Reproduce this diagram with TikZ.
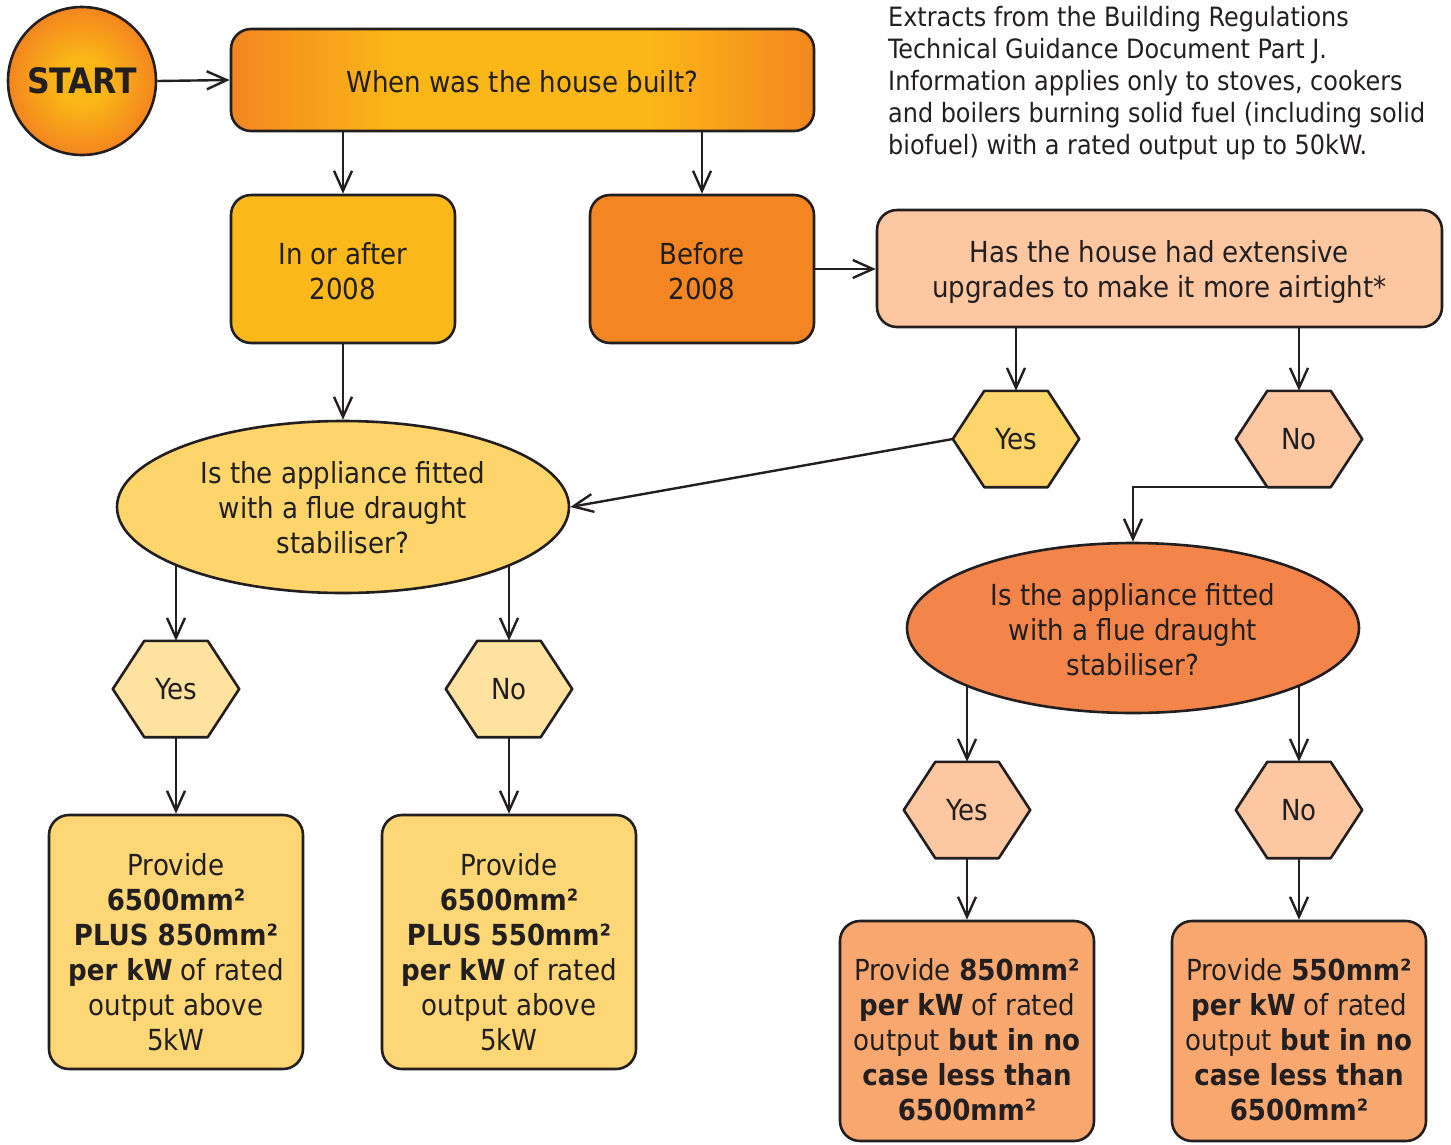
\documentclass[tikz,border=0pt]{standalone}
\usepackage{fontspec}
\setmainfont{DejaVu Sans Condensed}
\usetikzlibrary{shapes.geometric,arrows.meta}
\definecolor{ink}{HTML}{231F20}
\definecolor{cOr}{HTML}{F3861F}
\definecolor{cYe}{HTML}{FBB617}
\definecolor{cIn}{HTML}{FBB81A}
\definecolor{cBefore}{HTML}{F38522}
\definecolor{cPeach}{HTML}{FDC7A1}
\definecolor{cGold}{HTML}{FDD56A}
\definecolor{cPale}{HTML}{FFE1A0}
\definecolor{cBoxY}{HTML}{FDD676}
\definecolor{cEllO}{HTML}{F3854A}
\definecolor{cBoxO}{HTML}{F8A86F}
\pgfdeclarelayer{bg}
\pgfsetlayers{bg,main}
\pgfdeclarehorizontalshading{topbar}{100bp}{color(0bp)=(cOr); color(25bp)=(cOr); color(39bp)=(cYe); color(61bp)=(cYe); color(75bp)=(cOr); color(100bp)=(cOr)}
\pgfdeclareradialshading{startball}{\pgfpoint{0bp}{0bp}}{color(0bp)=(cYe); color(8bp)=(cYe); color(25bp)=(cOr); color(50bp)=(cOr)}
\newcommand\mainfs{\fontsize{29}{35}\selectfont}
\newcommand\notefs{\fontsize{26.6}{32}\selectfont}
\newcommand\hexa[4]{%
  \path node[hexbox] (#1) at (#2) {};
  \draw[shapeline, fill=#3] (#1.west) -- ([xshift=31.5pt]#1.north west) -- ([xshift=-31.5pt]#1.north east) -- (#1.east) -- ([xshift=-31.5pt]#1.south east) -- ([xshift=31.5pt]#1.south west) -- cycle;
  \node[txt] (#1t) at (#1) {#4};}
\tikzset{
  shapeline/.style={draw=ink, line width=2.6pt, line join=round},
  txt/.style={text=ink, align=center, font=\mainfs, inner sep=0pt},
  rbox/.style={shapeline, rectangle, rounded corners=20pt, inner sep=0pt},
  oval/.style={shapeline, ellipse, inner sep=0pt, minimum width=452pt, minimum height=172pt},
  hexbox/.style={rectangle, inner sep=0pt, minimum width=126pt, minimum height=96pt},
  conn/.style={draw=ink, line width=2.4pt, -{Straight Barb[length=20pt,width=18pt,line width=2.4pt]}},
  plain/.style={draw=ink, line width=2.4pt}
}
\begin{document}
\begin{tikzpicture}[x=1pt,y=-1pt]
\useasboundingbox (0,0) rectangle (1451,1144);
% start and top question
\node[shapeline, circle, minimum size=148pt, inner sep=0pt, shade, shading=startball, text=ink, font=\fontsize{35}{40}\selectfont\bfseries] (start) at (82,81) {START};
\node[rbox, shade, shading=topbar, minimum width=583pt, minimum height=102pt] (top) at (522.5,80) {};
\node[txt] (topt) at (522.5,82) {When was the house built?};
% year boxes
\node[rbox, fill=cIn, minimum width=224pt, minimum height=148pt] (in) at (343,269) {};
\node[txt] (int) at (343,271) {In or after\\2008};
\node[rbox, fill=cBefore, minimum width=224pt, minimum height=148pt] (before) at (702,269) {};
\node[txt] (beforet) at (702,271) {Before\\2008};
\node[rbox, fill=cPeach, minimum width=565pt, minimum height=117pt] (has) at (1159.5,268.5) {};
\node[txt] (hast) at (1159.5,272) {Has the house had extensive\\upgrades to make it more airtight*};
% note
\node[text=ink, align=left, font=\notefs, inner sep=0pt, anchor=north west] (note) at (888,6) {Extracts from the Building Regulations\\Technical Guidance Document Part J.\\Information applies only to stoves, cookers\\and boilers burning solid fuel (including solid\\biofuel) with a rated output up to 50kW.};
% airtight answers
\hexa{hy1}{1016,439}{cGold}{Yes}
\hexa{hn1}{1299,439}{cPeach}{No}
% ellipses
\node[oval, fill=cGold] (ell1) at (343,507) {};
\node[txt] (ell1t) at (343,508) {Is the appliance fitted\\with a flue draught\\stabiliser?};
\node[oval, fill=cEllO, minimum height=170pt] (ell2) at (1133,628) {};
\node[txt] (ell2t) at (1133,630) {Is the appliance fitted\\with a flue draught\\stabiliser?};
% stabiliser answers
\hexa{hy2}{176,689}{cPale}{Yes}
\hexa{hn2}{509,689}{cPale}{No}
\hexa{hy3}{967,810}{cPeach}{Yes}
\hexa{hn3}{1299,810}{cPeach}{No}
% result boxes
\node[rbox, fill=cBoxY, minimum width=254pt, minimum height=254pt] (b1) at (176,942) {};
\node[txt] (b1t) at (176,952) {Provide\\\textbf{6500mm²}\\\textbf{PLUS 850mm²}\\\textbf{per kW} of rated\\output above\\5kW};
\node[rbox, fill=cBoxY, minimum width=254pt, minimum height=254pt] (b2) at (509,942) {};
\node[txt] (b2t) at (509,952) {Provide\\\textbf{6500mm²}\\\textbf{PLUS 550mm²}\\\textbf{per kW} of rated\\output above\\5kW};
\node[rbox, fill=cBoxO, minimum width=254pt, minimum height=220pt] (b3) at (967,1031) {};
\node[txt] (b3t) at (967,1040) {Provide \textbf{850mm²}\\\textbf{per kW} of rated\\output \textbf{but in no}\\\textbf{case less than}\\\textbf{6500mm²}};
\node[rbox, fill=cBoxO, minimum width=254pt, minimum height=220pt] (b4) at (1299,1031) {};
\node[txt] (b4t) at (1299,1040) {Provide \textbf{550mm²}\\\textbf{per kW} of rated\\output \textbf{but in no}\\\textbf{case less than}\\\textbf{6500mm²}};
% connectors
\draw[conn] (start.east) -- (top.west);
\draw[conn] (in |- top.south) -- (in.north);
\draw[conn] (before |- top.south) -- (before.north);
\draw[conn] (before.east) -- (before.east -| has.west);
\draw[conn] (hy1 |- has.south) -- (hy1.north);
\draw[conn] (hn1 |- has.south) -- (hn1.north);
\draw[conn] (hy1.west) -- (ell1.east);
\draw[conn] (in.south) -- (ell1.north);
\begin{pgfonlayer}{bg}
\draw[conn] (hn1.south) -| (ell2.north);
\draw[conn] (hy2 |- ell1.center) -- (hy2.north);
\draw[conn] (hn2 |- ell1.center) -- (hn2.north);
\draw[conn] (hy3 |- ell2.center) -- (hy3.north);
\draw[conn] (hn3 |- ell2.center) -- (hn3.north);
\end{pgfonlayer}
\draw[conn] (hy2.south) -- (b1.north);
\draw[conn] (hn2.south) -- (b2.north);
\draw[conn] (hy3.south) -- (b3.north);
\draw[conn] (hn3.south) -- (b4.north);
\end{tikzpicture}
\end{document}
